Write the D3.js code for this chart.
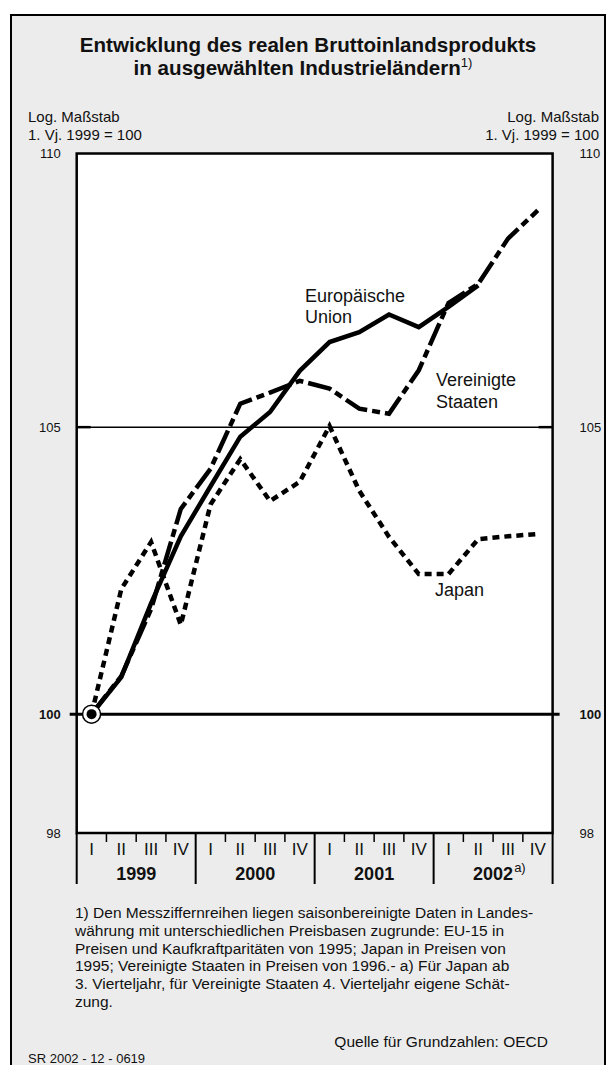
<!DOCTYPE html>
<html><head><meta charset="utf-8">
<script src="https://cdn.jsdelivr.net/npm/d3@7"></script>
<style>
body{margin:0;background:#fff}
text{font-family:"Liberation Sans",Arial,sans-serif;fill:#111}
</style>
</head><body>
<svg id="c" width="615" height="1065"></svg>
<script>
// ---- data ----
const quarterLabels = ["I","II","III","IV"];
const years = ["1999","2000","2001","2002"];
const periods = d3.range(16); // Q1 1999 ... Q4 2002
const euValues    = [100, 100.63, 101.90, 103.07, 103.95, 104.83, 105.27, 106.01, 106.53, 106.71, 107.03, 106.80, 107.17, 107.56];
const usValues    = [100, 100.65, 101.80, 103.55, 104.26, 105.42, 105.62, 105.83, 105.69, 105.33, 105.24, 106.02, 107.24, 107.59, 108.42, 108.94];
const japanValues = [100, 102.15, 102.97, 101.53, 103.63, 104.43, 103.69, 104.03, 105.02, 103.87, 103.06, 102.41, 102.41, 103.02, 103.07, 103.11];
const yTicks = [98, 100, 105, 110];
const titleLines = ["Entwicklung des realen Bruttoinlandsprodukts", "in ausgewählten Industrieländern"];
const footnotes = [
 "1) Den Messziffernreihen liegen saisonbereinigte Daten in Landes-",
 "währung mit unterschiedlichen Preisbasen zugrunde: EU-15 in",
 "Preisen und Kaufkraftparitäten von 1995; Japan in Preisen von",
 "1995; Vereinigte Staaten in Preisen von 1996.- a) Für Japan ab",
 "3. Vierteljahr, für Vereinigte Staaten 4. Vierteljahr eigene Schät-",
 "zung."
];

// ---- layout ----
const svg = d3.select("#c");
const P = {left:76.7, right:552.6, top:153.5, bottom:833};

svg.append("rect").attr("x",11).attr("y",15).attr("width",594).attr("height",1070)
  .attr("fill","#ececec").attr("stroke","#000").attr("stroke-width",2);

const x = d3.scaleBand().domain(periods).range([P.left,P.right]);
const xc = i => x(i) + x.bandwidth()/2;
const xYear = d3.scaleBand().domain(years).range([P.left,P.right]);
const y = d3.scaleLog().domain([98,110]).range([P.bottom,P.top]);

// title
svg.append("text").attr("x",308).attr("y",52).attr("text-anchor","middle")
  .attr("font-size",20.6).attr("font-weight","bold").text(titleLines[0]);
const t2 = svg.append("text").attr("x",303).attr("y",75).attr("text-anchor","middle")
  .attr("font-size",20.6).attr("font-weight","bold");
t2.append("tspan").text(titleLines[1]);
t2.append("tspan").attr("font-size",13).attr("font-weight","normal").attr("dy",-8).text("1)");

// scale notes
[["Log. Maßstab",122],["1. Vj. 1999 = 100",139.5]].forEach(([s,yy])=>{
  svg.append("text").attr("x",28).attr("y",yy).attr("font-size",15).text(s);
  svg.append("text").attr("x",599).attr("y",yy).attr("text-anchor","end").attr("font-size",15).text(s);
});

// plot background
svg.append("rect").attr("x",P.left).attr("y",P.top).attr("width",P.right-P.left).attr("height",P.bottom-P.top)
  .attr("fill","#fff");

// gridline 105
svg.append("line").attr("x1",P.left).attr("x2",P.right).attr("y1",y(105)).attr("y2",y(105))
  .attr("stroke","#000").attr("stroke-width",1.5);
[[P.left,P.left+14],[P.right-14,P.right]].forEach(([a,b])=>
  svg.append("line").attr("x1",a).attr("x2",b).attr("y1",y(105)).attr("y2",y(105)).attr("stroke","#000").attr("stroke-width",2.5));
// line 100
svg.append("line").attr("x1",P.left-7).attr("x2",P.right+7).attr("y1",y(100)).attr("y2",y(100))
  .attr("stroke","#000").attr("stroke-width",3);

// y axes labels
const axL = svg.append("g").attr("transform",`translate(${P.left},0)`)
  .call(d3.axisLeft(y).tickValues(yTicks).tickSize(0).tickPadding(16).tickFormat(d3.format("d")));
const axR = svg.append("g").attr("transform",`translate(${P.right},0)`)
  .call(d3.axisRight(y).tickValues(yTicks).tickSize(0).tickPadding(27).tickFormat(d3.format("d")));
[axL,axR].forEach(a=>{
  a.select(".domain").remove();
  a.selectAll("text").attr("font-size",13).attr("font-family","Liberation Sans, Arial, sans-serif").attr("fill","#111")
    .attr("font-weight",d=>d===100?"bold":"normal");
});

// series
const line = d3.line().x((d,i)=>xc(i)).y(d=>y(d));
svg.append("path").datum(japanValues).attr("d",line).attr("fill","none")
  .attr("stroke","#000").attr("stroke-width",4.5).attr("stroke-dasharray","7,5");
svg.append("path").datum(usValues).attr("d",line).attr("fill","none")
  .attr("stroke","#000").attr("stroke-width",4.5).attr("stroke-dasharray","24,5,8,5");
svg.append("path").datum(euValues).attr("d",line).attr("fill","none")
  .attr("stroke","#000").attr("stroke-width",4.5).attr("stroke-linejoin","miter");

// plot border
svg.append("rect").attr("x",P.left).attr("y",P.top).attr("width",P.right-P.left).attr("height",P.bottom-P.top)
  .attr("fill","none").attr("stroke","#000").attr("stroke-width",2.5);

// start marker
svg.append("circle").attr("cx",xc(0)).attr("cy",y(euValues[0])).attr("r",9)
  .attr("fill","#fff").attr("stroke","#000").attr("stroke-width",1.5);
svg.append("circle").attr("cx",xc(0)).attr("cy",y(euValues[0])).attr("r",5).attr("fill","#000");

// series labels
const lab = (lines,xx,yy)=>lines.forEach((s,k)=>svg.append("text").attr("x",xx).attr("y",yy+k*21.5).attr("font-size",18).text(s));
lab(["Europäische","Union"],305,301.5);
lab(["Vereinigte","Staaten"],436,386);
lab(["Japan"],435,596);

// x axis: quarter ticks, year dividers
periods.forEach(i=>{ if(i%4!==0) svg.append("line").attr("x1",x(i)).attr("x2",x(i)).attr("y1",P.bottom).attr("y2",P.bottom+9)
  .attr("stroke","#000").attr("stroke-width",1.5); });
years.concat(["end"]).forEach((yr,k)=>{
  const xx = k<years.length ? xYear(yr) : P.right;
  svg.append("line").attr("x1",xx).attr("x2",xx).attr("y1",P.bottom).attr("y2",P.bottom+51)
    .attr("stroke","#000").attr("stroke-width",2);
});
const axB = svg.append("g").attr("transform",`translate(0,${P.bottom})`)
  .call(d3.axisBottom(x).tickSize(0).tickPadding(10).tickFormat(i=>quarterLabels[i%4]));
axB.select(".domain").remove();
axB.selectAll("text").attr("font-size",17).attr("font-family","Liberation Sans, Arial, sans-serif").attr("fill","#111");

years.forEach(yr=>{
  const cx = xYear(yr)+xYear.bandwidth()/2;
  const t = svg.append("text").attr("x",cx).attr("y",P.bottom+47).attr("text-anchor","middle")
    .attr("font-size",18).attr("font-weight","bold").text(yr);
  if(yr==="2002"){
    const w = t.node().getComputedTextLength();
    svg.append("text").attr("x",cx+w/2+1).attr("y",P.bottom+39).attr("font-size",13).text("a)");
  }
});

// footnotes
footnotes.forEach((s,k)=>svg.append("text").attr("x",75).attr("y",918+k*17.8).attr("font-size",15.5).text(s));
svg.append("text").attr("x",548).attr("y",1047).attr("text-anchor","end").attr("font-size",15.5).text("Quelle für Grundzahlen: OECD");
svg.append("text").attr("x",28).attr("y",1063).attr("font-size",13).text("SR 2002 - 12 - 0619");
</script>
</body></html>
